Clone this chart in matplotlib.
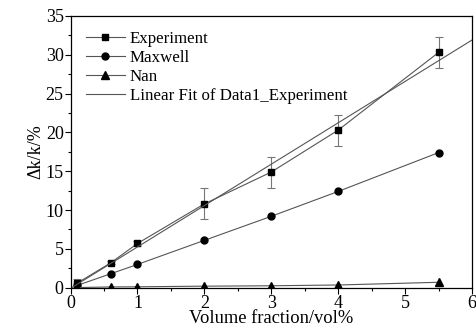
import numpy as np
import matplotlib.pyplot as plt
from matplotlib.ticker import MultipleLocator

plt.rcParams['font.family'] = ['Liberation Serif', 'DejaVu Serif']

# Data
vol = [0.1, 0.6, 1, 2, 3, 4, 5.5]
experiment = [0.6, 3.2, 5.7, 10.8, 14.9, 20.3, 30.3]
exp_err = [0.5, 0.2, 0.3, 2.0, 2.0, 2.0, 2.0]
maxwell = [0.3, 1.8, 3.0, 6.1, 9.2, 12.4, 17.4]
nan_model = [0.02, 0.1, 0.12, 0.2, 0.25, 0.35, 0.7]

# linear fit of experiment data
slope, intercept = np.polyfit(vol, experiment, 1)
fit_x = np.array([0, 6])
fit_y = slope * fit_x + intercept

fig = plt.figure(figsize=(4.77, 3.33), dpi=100)
ax = fig.add_axes([0.148, 0.136, 0.8415, 0.816])

lc = '#555555'
ax.errorbar(vol, experiment, yerr=exp_err, color='black', ecolor='#777777',
            elinewidth=0.8, capsize=3, capthick=0.8, linestyle='none')
ax.plot(vol, experiment, color=lc, lw=0.8, marker='s', ms=5, mfc='black', mec='black', label='Experiment')
ax.plot(vol, maxwell, color=lc, lw=0.8, marker='o', ms=5, mfc='black', mec='black', label='Maxwell')
ax.plot(vol, nan_model, color=lc, lw=0.8, marker='^', ms=5.5, mfc='black', mec='black', label='Nan')
ax.plot(fit_x, fit_y, color=lc, lw=0.8, label='Linear Fit of Data1_Experiment')

ax.set_xlim(0, 6)
ax.set_ylim(0, 35)
ax.xaxis.set_major_locator(MultipleLocator(1))
ax.xaxis.set_minor_locator(MultipleLocator(0.5))
ax.yaxis.set_major_locator(MultipleLocator(5))
ax.yaxis.set_minor_locator(MultipleLocator(2.5))
ax.tick_params(which='both', direction='out', labelsize=13, width=0.8)
ax.tick_params(which='major', length=4, pad=1)
ax.tick_params(which='minor', length=2.5)
for s in ax.spines.values():
    s.set_linewidth(0.9)

ax.set_xlabel('Volume fraction/vol%', fontsize=13.3, labelpad=-1)
ax.set_ylabel('Δk/k/%', fontsize=13, labelpad=1)

ax.legend(loc='upper left', frameon=False, fontsize=12.2, handlelength=2.3,
          labelspacing=0.18, borderaxespad=0.6, borderpad=0.3, handletextpad=0.3)

fig.savefig('out.png', dpi=100)
